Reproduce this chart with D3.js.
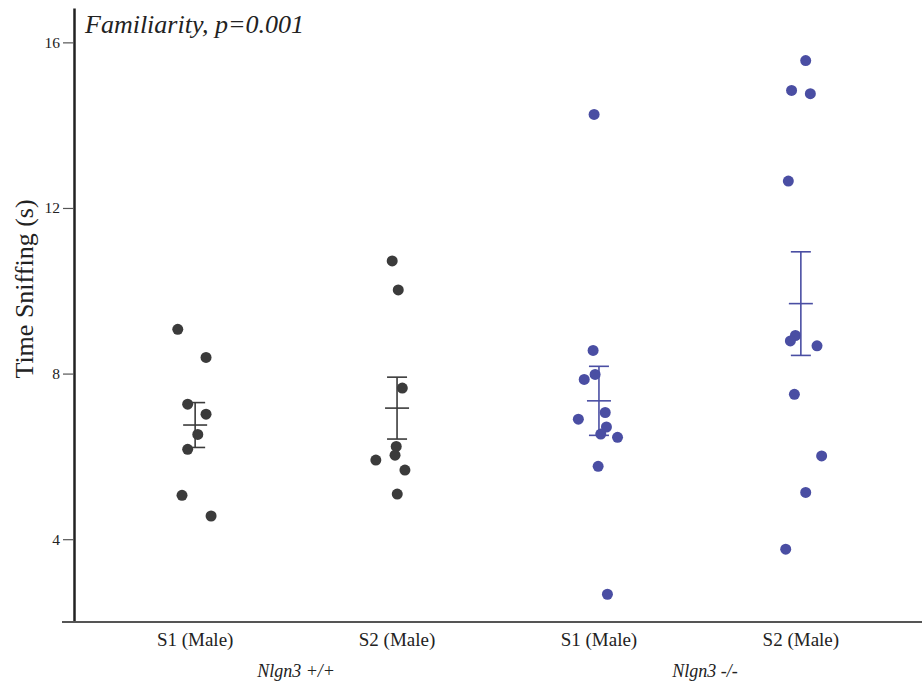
<!DOCTYPE html>
<html>
<head>
<meta charset="utf-8">
<script src="https://cdn.jsdelivr.net/npm/d3@7"></script>
<style>
    body{ margin:0; background:#fff; }
    svg{ display:block; }
</style>
</head>
<body>
<div id="chart"></div>
<script>

// categories on the x axis (genotype + stranger)
var categories = ["wt_s1", "wt_s2", "ko_s1", "ko_s2"];
var categoryLabels = ["S1 (Male)", "S2 (Male)", "S1 (Male)", "S2 (Male)"];
var genotypeLabels = ["Nlgn3 +/+", "Nlgn3 -/-"];

// time sniffing (s), one value per animal
var wtS1 = [9.07, 8.39, 7.26, 7.02, 6.53, 6.17, 5.06, 4.56];
var wtS2 = [10.72, 10.02, 7.65, 6.24, 6.03, 5.91, 5.67, 5.09];
var koS1 = [14.26, 8.56, 7.98, 7.86, 6.90, 7.06, 6.71, 6.54, 6.46, 5.76, 2.67];
var koS2 = [15.56, 14.84, 14.76, 12.65, 8.92, 8.79, 8.67, 7.50, 6.01, 5.13, 3.76];

// horizontal jitter of each dot, in category steps
var wtS1Jitter = [-0.086, 0.054, -0.037, 0.054, 0.013, -0.037, -0.065, 0.079];
var wtS2Jitter = [-0.024, 0.006, 0.026, -0.004, -0.010, -0.105, 0.039, 0.001];
var koS1Jitter = [-0.024, -0.029, -0.019, -0.073, -0.102, 0.031, 0.037, 0.009, 0.092, -0.004, 0.042];
var koS2Jitter = [0.024, -0.046, 0.047, -0.062, -0.027, -0.052, 0.080, -0.032, 0.103, 0.024, -0.075];

var yTicks = [4, 8, 12, 16];

var width = 922, height = 686;
var dark = "#3b3b3b", blue = "#4a4ea3";
var serif = "'Liberation Serif', 'Times New Roman', Times, serif";

var groups = [
    { key: "wt_s1", values: wtS1, jitter: wtS1Jitter, color: dark },
    { key: "wt_s2", values: wtS2, jitter: wtS2Jitter, color: dark },
    { key: "ko_s1", values: koS1, jitter: koS1Jitter, color: blue },
    { key: "ko_s2", values: koS2, jitter: koS2Jitter, color: blue }
];

var svg = d3.select("#chart").append("svg")
    .attr("width", width)
    .attr("height", height)
    .attr("font-family", serif);

var x = d3.scalePoint()
    .domain(categories)
    .range([74, 922])
    .padding(0.6);

var y = d3.scaleLinear()
    .domain([2, 16.83])
    .range([622, 8]);

// y axis
var yAxis = svg.append("g")
    .attr("transform", "translate(74,0)")
    .call(d3.axisLeft(y).tickValues(yTicks).tickSize(11).tickPadding(3).tickSizeOuter(0))
    .attr("font-family", serif);

yAxis.select(".domain").attr("stroke", "#222").attr("stroke-width", 2.5);
yAxis.selectAll(".tick line").attr("stroke", "#555").attr("stroke-width", 1.2);
yAxis.selectAll(".tick text")
    .attr("font-size", 15.5)
    .attr("fill", "#222");

// x axis line, runs a bit left of the y axis
svg.append("line")
    .attr("x1", 62).attr("x2", width)
    .attr("y1", y(2)).attr("y2", y(2))
    .attr("stroke", "#555")
    .attr("stroke-width", 1.8);

// category labels
svg.selectAll(".cat-label")
    .data(categories)
    .enter().append("text")
    .attr("class", "cat-label")
    .attr("x", d => x(d))
    .attr("y", 646)
    .attr("text-anchor", "middle")
    .attr("font-size", 19)
    .attr("fill", "#222")
    .text((d, i) => categoryLabels[i]);

// genotype labels, centred between their two categories
svg.selectAll(".geno-label")
    .data(genotypeLabels)
    .enter().append("text")
    .attr("class", "geno-label")
    .attr("x", (d, i) => (x(categories[i * 2]) + x(categories[i * 2 + 1])) / 2 + i * 5)
    .attr("y", 677)
    .attr("text-anchor", "middle")
    .attr("font-size", 18)
    .attr("font-style", "italic")
    .attr("fill", "#222")
    .text(d => d);

// y title
svg.append("text")
    .attr("transform", "translate(33,289) rotate(-90)")
    .attr("text-anchor", "middle")
    .attr("font-size", 26)
    .attr("fill", "#222")
    .text("Time Sniffing (s)");

// panel title
svg.append("text")
    .attr("x", 85)
    .attr("y", 33)
    .attr("font-size", 26)
    .attr("font-style", "italic")
    .attr("fill", "#222")
    .text("Familiarity, p=0.001");

// dots
groups.forEach(function(g){

    var cx = x(g.key);

    svg.append("g").selectAll("circle")
        .data(g.values)
        .enter().append("circle")
        .attr("cx", (d, i) => cx + g.jitter[i] * x.step())
        .attr("cy", d => y(d))
        .attr("r", 5.5)
        .attr("fill", g.color);

    // mean +/- sem
    var mean = d3.mean(g.values);
    var sem = d3.deviation(g.values) / Math.sqrt(g.values.length);

    var bars = svg.append("g")
        .attr("stroke", g.color)
        .attr("stroke-width", 1.6);

    bars.append("line")
        .attr("x1", cx).attr("x2", cx)
        .attr("y1", y(mean + sem)).attr("y2", y(mean - sem));
    bars.append("line")
        .attr("x1", cx - 12).attr("x2", cx + 12)
        .attr("y1", y(mean)).attr("y2", y(mean));
    [mean + sem, mean - sem].forEach(function(v){
        bars.append("line")
            .attr("x1", cx - 10).attr("x2", cx + 10)
            .attr("y1", y(v)).attr("y2", y(v));
    });

});

</script>
</body>
</html>
